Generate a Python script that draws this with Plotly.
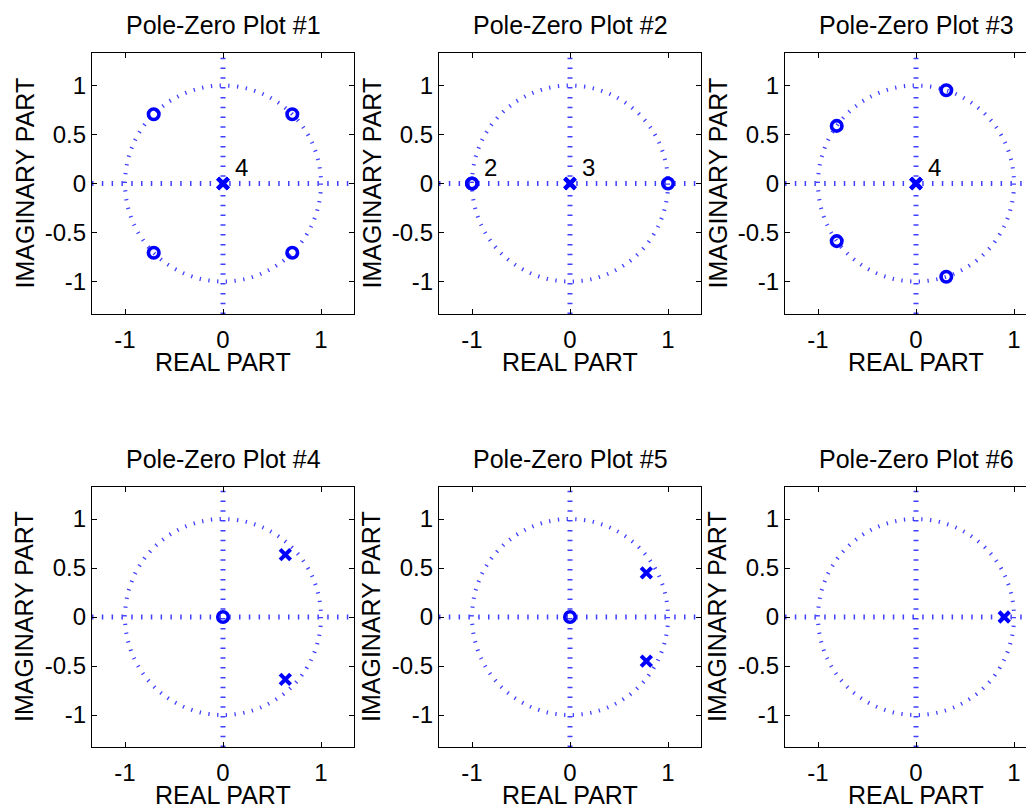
import plotly.graph_objects as go

# ---------------- data ----------------
titles = ["Pole-Zero Plot #1", "Pole-Zero Plot #2", "Pole-Zero Plot #3",
          "Pole-Zero Plot #4", "Pole-Zero Plot #5", "Pole-Zero Plot #6"]

zeros_re = [
    [0.707, -0.707, -0.707, 0.707],
    [-1.0, -1.0, 1.0],
    [0.309, 0.309, -0.809, -0.809],
    [0.0],
    [0.0],
    [],
]
zeros_im = [
    [0.707, 0.707, -0.707, -0.707],
    [0.0, 0.0, 0.0],
    [0.951, -0.951, 0.588, -0.588],
    [0.0],
    [0.0],
    [],
]
poles_re = [
    [0.0, 0.0, 0.0, 0.0],
    [0.0, 0.0, 0.0],
    [0.0, 0.0, 0.0, 0.0],
    [0.636, 0.636],
    [0.779, 0.779],
    [0.9],
]
poles_im = [
    [0.0, 0.0, 0.0, 0.0],
    [0.0, 0.0, 0.0],
    [0.0, 0.0, 0.0, 0.0],
    [0.636, -0.636],
    [0.45, -0.45],
    [0.0],
]

x_tickvals = [-1, 0, 1]
x_ticktext = ["-1", "0", "1"]
y_tickvals = [-1, -0.5, 0, 0.5, 1]
y_ticktext = ["-1", "-0.5", "0", "0.5", "1"]

x_label = "REAL PART"
y_label = "IMAGINARY PART"

# ---------------- layout geometry ----------------
OFF = 8                      # default page body margin
PAGE_W, PAGE_H = 1034, 810
W, H = PAGE_W - OFF, PAGE_H - OFF
BLUE = "#0000ff"
FONT = "Liberation Sans, Arial, Helvetica, sans-serif"

# plot boxes in page pixels
col_px = [(92, 354), (439, 701), (785, 1047)]
row_px = [(53, 314), (487, 747)]
unit = 98.0

fig = go.Figure()
shapes = []
annotations = []
layout = {}


def px_x(p):
    return (p - OFF) / W


def px_y(p):
    return 1 - (p - OFF) / H


for k in range(6):
    r, c = divmod(k, 3)
    n = k + 1
    xa = "x" if n == 1 else f"x{n}"
    ya = "y" if n == 1 else f"y{n}"
    xl, xr = col_px[c]
    yt, yb = row_px[r]
    xr_vis = min(xr, PAGE_W)
    half_x = (xr - xl) / 2 / unit
    half_y = (yb - yt) / 2 / unit
    x_range = [-half_x, -half_x + (xr_vis - xl) / unit]
    y_range = [-half_y, half_y]
    xdom = [px_x(xl), min(1.0, px_x(xr_vis))]
    ydom = [px_y(yb), px_y(yt)]

    cut = xr > PAGE_W
    axis_common = dict(
        showgrid=False, zeroline=False, showline=True, linecolor="black",
        linewidth=1.3, ticks="inside", ticklen=5, tickwidth=1.1,
        tickcolor="black", tickfont=dict(family=FONT, size=24, color="black"),
        fixedrange=True,
    )
    layout["xaxis" if n == 1 else f"xaxis{n}"] = dict(
        axis_common, domain=xdom, range=x_range, anchor=ya,
        tickmode="array", tickvals=x_tickvals, ticktext=x_ticktext,
        mirror="ticks", ticklabelstandoff=4,
    )
    layout["yaxis" if n == 1 else f"yaxis{n}"] = dict(
        axis_common, domain=ydom, range=y_range, anchor=xa,
        tickmode="array", tickvals=y_tickvals, ticktext=y_ticktext,
        mirror=False if cut else "ticks", ticklabelstandoff=0,
    )

    # unit circle and dotted axes
    shapes.append(dict(type="circle", xref=xa, yref=ya, x0=-1, y0=-1, x1=1, y1=1,
                       line=dict(color=BLUE, width=4, dash="1.3px,7.5px"),
                       opacity=0.75, layer="below"))
    shapes.append(dict(type="line", xref=f"{xa} domain", yref=ya, x0=0, x1=1, y0=0, y1=0,
                       line=dict(color=BLUE, width=5, dash="1.5px,8.3px"),
                       opacity=0.75, layer="below"))
    shapes.append(dict(type="line", xref=xa, yref=f"{ya} domain", x0=0, x1=0, y0=0, y1=1,
                       line=dict(color=BLUE, width=5, dash="1.5px,8.3px"),
                       opacity=0.75, layer="below"))

    # zeros and poles
    if zeros_re[k]:
        fig.add_trace(go.Scatter(
            x=zeros_re[k], y=zeros_im[k], mode="markers", xaxis=xa, yaxis=ya,
            marker=dict(symbol="circle-open", size=10.5, color=BLUE,
                        line=dict(width=3.6, color=BLUE)),
            showlegend=False, hoverinfo="x+y"))
    if poles_re[k]:
        fig.add_trace(go.Scatter(
            x=poles_re[k], y=poles_im[k], mode="markers", xaxis=xa, yaxis=ya,
            marker=dict(symbol="x-thin-open", size=10.5, color=BLUE,
                        line=dict(width=4, color=BLUE)),
            showlegend=False, hoverinfo="x+y"))

    # multiplicity labels
    for res, ims in ((zeros_re[k], zeros_im[k]), (poles_re[k], poles_im[k])):
        pts = list(zip(res, ims))
        seen = []
        for p in pts:
            if p in seen:
                continue
            seen.append(p)
            m = pts.count(p)
            if m > 1:
                annotations.append(dict(
                    x=p[0] + 0.1, y=p[1] + 0.16, xref=xa, yref=ya, text=str(m),
                    showarrow=False, xanchor="left", yanchor="middle",
                    font=dict(family=FONT, size=24, color="black")))

    # subplot title
    cx = (xl + xr) / 2
    annotations.append(dict(
        x=px_x(cx), y=px_y(yt - 28), xref="paper", yref="paper", text=titles[k],
        showarrow=False, xanchor="center", yanchor="middle",
        font=dict(family=FONT, size=25, color="black")))
    # x axis title
    annotations.append(dict(
        x=px_x(cx), y=px_y(yb + 48), xref="paper", yref="paper", text=x_label,
        showarrow=False, xanchor="center", yanchor="middle",
        font=dict(family=FONT, size=25, color="black")))
    # y axis title
    annotations.append(dict(
        x=px_x(xl - 68), y=px_y((yt + yb) / 2), xref="paper", yref="paper",
        text=y_label, textangle=-90,
        showarrow=False, xanchor="center", yanchor="middle",
        font=dict(family=FONT, size=25, color="black")))

fig.update_layout(
    **layout,
    shapes=shapes,
    annotations=annotations,
    width=W, height=H,
    margin=dict(l=0, r=0, t=0, b=0),
    paper_bgcolor="white", plot_bgcolor="white",
    showlegend=False,
    font=dict(family=FONT, color="black"),
)

fig.write_html("out.html", config={"displayModeBar": False})
